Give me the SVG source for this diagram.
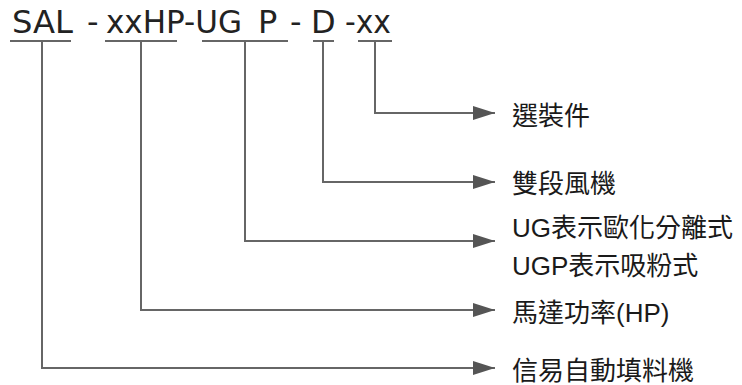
<svg xmlns="http://www.w3.org/2000/svg" width="742" height="385" viewBox="0 0 742 385">
<defs>
<style>
.code{font-family:"DejaVu Sans","Liberation Sans",sans-serif;font-size:32px;fill:#222}
.lbl{font-family:"Liberation Sans","Noto Sans CJK TC",sans-serif;font-size:26px;fill:#1a1a1a}
.ln{fill:none;stroke:#666;stroke-width:2}
</style>
<marker id="ah" markerWidth="22" markerHeight="14" refX="22" refY="7" orient="auto" markerUnits="userSpaceOnUse">
<path d="M0,0 L22,7 L0,14 Z" fill="#555"/>
</marker>
</defs>
<g id="code">
<text class="code" x="12" y="33" textLength="61" lengthAdjust="spacingAndGlyphs">SAL</text>
<text class="code" x="87" y="33">-</text>
<text class="code" x="106" y="33" textLength="136" lengthAdjust="spacingAndGlyphs">xxHP-UG</text>
<text class="code" x="258" y="33">P</text>
<text class="code" x="290" y="33">-</text>
<text class="code" x="311" y="33">D</text>
<text class="code" x="345" y="33" textLength="46" lengthAdjust="spacingAndGlyphs">-xx</text>
</g>
<g id="connectors">
<path class="ln" d="M10,41 H71 M105,41 H177 M202,41 H288 M313,41 H334 M358,41 H392"/>
<path class="ln" d="M375,41 V113 H495" marker-end="url(#ah)"/>
<path class="ln" d="M323,41 V182 H495" marker-end="url(#ah)"/>
<path class="ln" d="M245,41 V241 H495" marker-end="url(#ah)"/>
<path class="ln" d="M141,41 V310 H495" marker-end="url(#ah)"/>
<path class="ln" d="M42,41 V368 H495" marker-end="url(#ah)"/>
</g>
<g id="n-options"><text class="lbl" x="512" y="125">選裝件</text></g>
<g id="n-fan"><text class="lbl" x="512" y="193">雙段風機</text></g>
<g id="n-type"><text class="lbl" x="512" y="237">UG表示歐化分離式</text><text class="lbl" x="512" y="275">UGP表示吸粉式</text></g>
<g id="n-hp"><text class="lbl" x="512" y="322">馬達功率(HP)</text></g>
<g id="n-name"><text class="lbl" x="512" y="380">信易自動填料機</text></g>
</svg>
